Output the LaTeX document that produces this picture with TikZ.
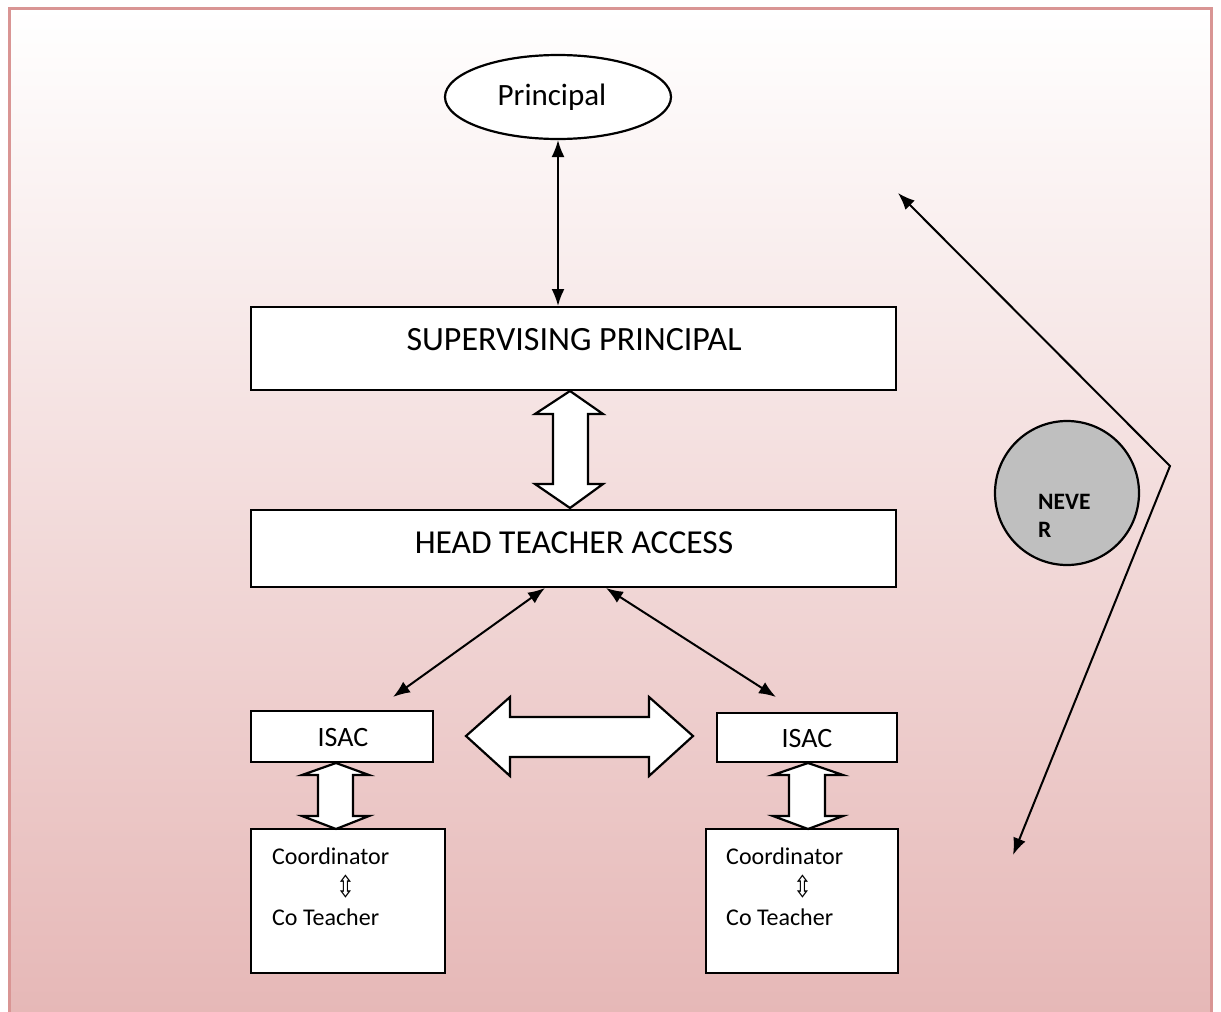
\documentclass[tikz,border=0pt]{standalone}
\usepackage{fontspec}
\setmainfont{Carlito}
\newfontfamily\symfont{DejaVu Sans}
\usetikzlibrary{arrows.meta,shapes.geometric}
\definecolor{framecol}{HTML}{D99594}
\definecolor{bottomcol}{HTML}{E6B8B7}
\definecolor{nevercol}{HTML}{BFBFBF}
\tikzset{
  box/.style={draw=black,line width=2.2pt,fill=white,inner sep=0pt},
  conn/.style={line width=2pt,{Latex[length=17pt,width=13pt]}-{Latex[length=17pt,width=13pt]}},
  blockarrow/.style={draw=black,line width=2.2pt,fill=white,line join=miter},
  lbl/.style={inner sep=0pt},
}
\newcommand{\fs}[1]{\fontsize{#1}{#1}\selectfont}
\begin{document}
\begin{tikzpicture}[x=1pt,y=-1pt]
\useasboundingbox (0,0) rectangle (1221,1012);
\fill[white] (0,0) rectangle (1221,1012);
\shade[top color=white,bottom color=bottomcol] (9,8) rectangle (1211,1012);
\draw[framecol,line width=3pt] (9,1030) -- (9,8) -- (1211,8) -- (1211,1030);

% nodes
\node[box,ellipse,minimum width=226pt,minimum height=84pt] (prin) at (558,97) {};
\node[lbl,font=\fs{31}] at (552,97) {Principal};
\node[box,minimum width=645pt,minimum height=83pt] (sp) at (573.5,348.5) {};
\node[lbl,font=\fs{34}] at (574,340) {SUPERVISING PRINCIPAL};
\node[box,minimum width=645pt,minimum height=77pt] (hta) at (573.5,548.5) {};
\node[lbl,font=\fs{33.5}] at (574,543) {HEAD TEACHER ACCESS};
\node[box,minimum width=182pt,minimum height=51pt] (isacl) at (342,736.5) {};
\node[lbl,font=\fs{28}] at (343,738) {ISAC};
\node[box,minimum width=180pt,minimum height=49pt] (isacr) at (807,737.5) {};
\node[lbl,font=\fs{28}] at (807,739) {ISAC};
\node[box,minimum width=194pt,minimum height=144pt] (cl) at (348,901) {};
\node[box,minimum width=192pt,minimum height=144pt] (cr) at (802,901) {};
\node[lbl,font=\fs{24},anchor=west] at (272,856) {Coordinator};
\node[lbl,font=\fs{30}\symfont,xscale=0.75] at (346,887) {⇳};
\node[lbl,font=\fs{24},anchor=west] at (272,917) {Co Teacher};
\node[lbl,font=\fs{24},anchor=west] at (726,856) {Coordinator};
\node[lbl,font=\fs{30}\symfont,xscale=0.75] at (803,887) {⇳};
\node[lbl,font=\fs{24},anchor=west] at (726,917) {Co Teacher};

\node[circle,draw=black,line width=2.2pt,fill=nevercol,minimum size=144pt] (never) at (1067,493) {};
\node[lbl,font=\fs{23.5}\bfseries,anchor=west] at (1038,502) {NEVE};
\node[lbl,font=\fs{23.5}\bfseries,anchor=west] at (1038,530) {R};

% connectors
\coordinate (pb) at (558,140);
\coordinate (spt) at (558,306);
\draw[conn] (pb) -- (spt);
\coordinate (htl) at (545,588);
\coordinate (htr) at (606,588);
\coordinate (isl) at (393,697);
\coordinate (isr) at (776,697);
\draw[conn] (htl) -- (isl);
\draw[conn] (htr) -- (isr);

\coordinate (nt) at (898,193);
\coordinate (nc) at (1170,466);
\coordinate (nb) at (1013,855);
\draw[conn] (nt) -- (nc) -- (nb);

% block arrows
\draw[blockarrow] (570,391) -- (603,414) -- (588,414) -- (588,484) -- (603,484) -- (570,508)
  -- (535,484) -- (553,484) -- (553,414) -- (535,414) -- cycle;
\draw[blockarrow] (336,763) -- (369,775) -- (353,775) -- (353,816) -- (369,816) -- (336,829)
  -- (302,816) -- (318,816) -- (318,775) -- (302,775) -- cycle;
\draw[blockarrow] (808,763) -- (843,775) -- (825,775) -- (825,816) -- (843,816) -- (808,829)
  -- (773,816) -- (789,816) -- (789,775) -- (773,775) -- cycle;
\draw[blockarrow] (466,736) -- (510,697) -- (510,717) -- (649,717) -- (649,697) -- (693,736)
  -- (649,776) -- (649,757) -- (510,757) -- (510,776) -- cycle;
\end{tikzpicture}
\end{document}
